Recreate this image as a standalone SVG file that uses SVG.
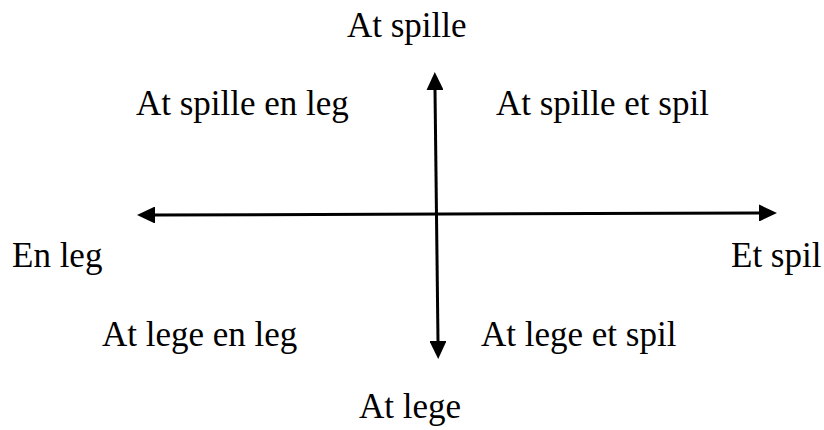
<svg xmlns="http://www.w3.org/2000/svg" width="824" height="430" viewBox="0 0 824 430">
<style>
text { font-family: "Liberation Serif", "Times New Roman", serif; font-size: 35px; fill: #000; }
.axis { stroke: #000; stroke-width: 3; fill: none; }
</style>
<defs>
<marker id="ah" viewBox="0 0 18 17" refX="0" refY="8.5" markerWidth="18" markerHeight="17" markerUnits="userSpaceOnUse" orient="auto-start-reverse">
<path d="M0,0 L18,8.5 L0,17 Z" fill="#000"/>
</marker>
</defs>
<rect width="824" height="430" fill="#fff"/>
<g id="connectors">
<line class="axis" x1="435" y1="90" x2="438" y2="341" marker-start="url(#ah)" marker-end="url(#ah)"/>
<line class="axis" x1="155" y1="215" x2="759" y2="213" marker-start="url(#ah)" marker-end="url(#ah)"/>
</g>
<g id="top"><text x="347" y="37">At spille</text></g>
<g id="top-left"><text x="136" y="115">At spille en leg</text></g>
<g id="top-right"><text x="496" y="115">At spille et spil</text></g>
<g id="left"><text x="12" y="267">En leg</text></g>
<g id="right"><text x="731" y="267">Et spil</text></g>
<g id="bottom-left"><text x="102" y="346">At lege en leg</text></g>
<g id="bottom-right"><text x="481" y="346">At lege et spil</text></g>
<g id="bottom"><text x="410" y="418" text-anchor="middle">At lege</text></g>
</svg>
